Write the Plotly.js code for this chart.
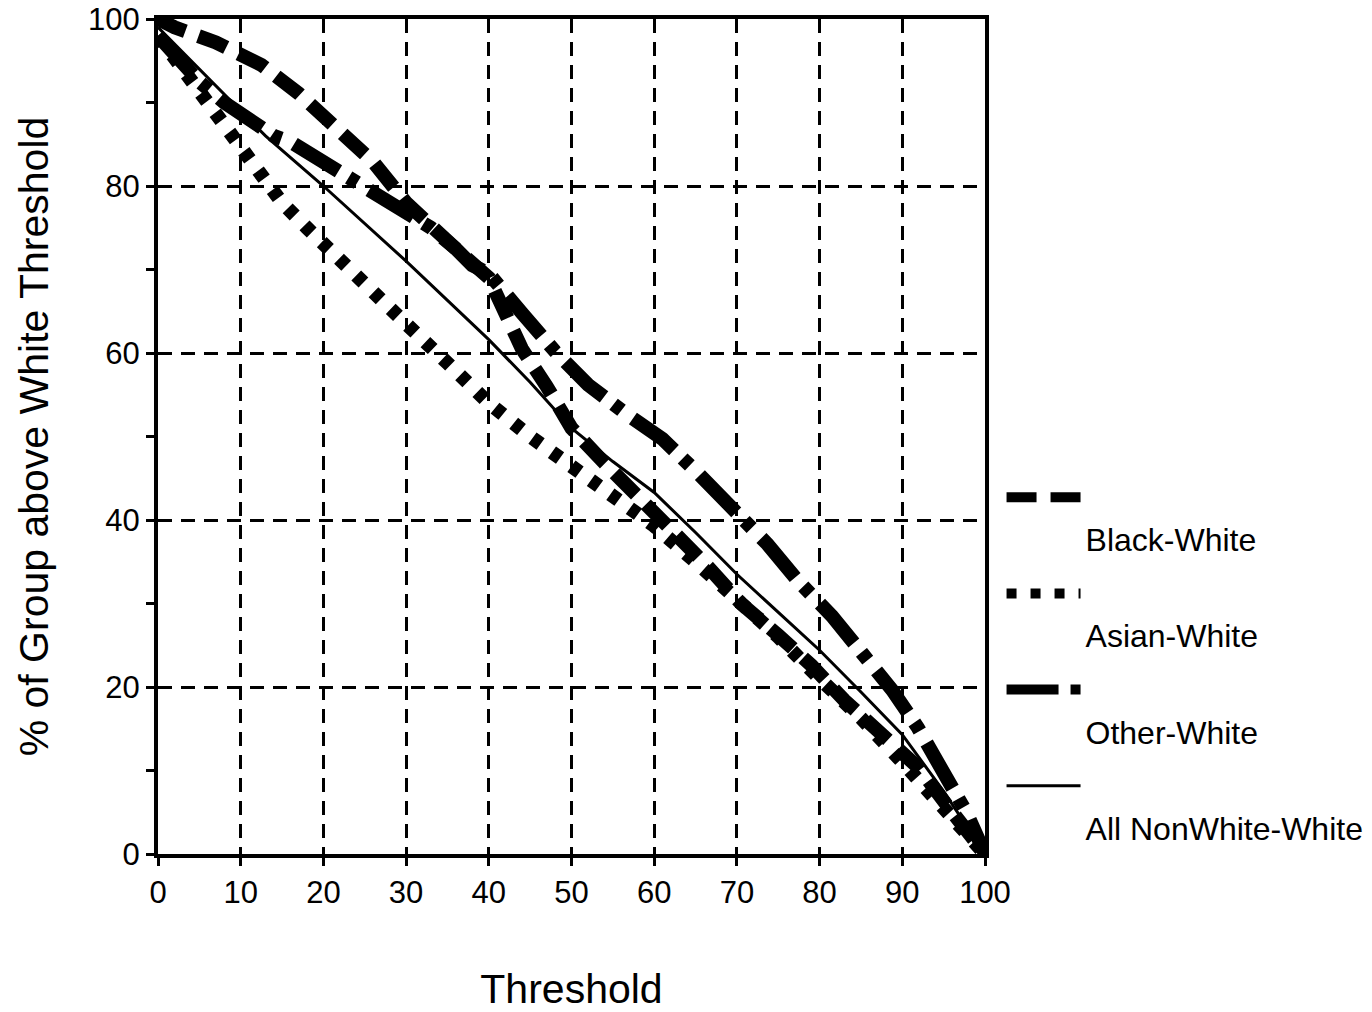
<!DOCTYPE html>
<html>
<head>
<meta charset="utf-8">
<script src="https://cdn.plot.ly/plotly-3.0.1.min.js"></script>
<style>
  html, body { margin: 0; padding: 0; background: #ffffff; }
  #chart { width: 1372px; height: 1012px; }
</style>
</head>
<body>
<div id="chart"></div>
<script>
// ---- Data ----
const seriesNames = ["Black-White", "Asian-White", "Other-White", "All NonWhite-White"];

const blackX = [0, 2, 7, 12.5, 17, 21.5, 26, 30, 33, 36, 40, 41.5, 44, 47, 50, 54, 58, 62.5, 66.5, 70.5, 75, 79, 83, 87.5, 92, 95.5, 100];
const blackY = [100, 99, 97.2, 94.5, 91.1, 87.1, 82.9, 78, 75, 72.5, 69, 66, 60.5, 56, 51, 46.8, 42.6, 38.4, 34.4, 30, 26.2, 22.6, 18.4, 14.5, 10.3, 5.7, 0];

const asianX = [0, 3, 6, 8, 10, 12, 15, 18, 20, 25, 30, 35, 40, 45, 50, 55, 60, 65, 70, 75, 80, 85, 90, 95, 100];
const asianY = [98, 94, 90, 87, 84, 81.5, 78, 75, 73, 68, 63.5, 58.8, 54, 50, 46.3, 42.8, 39.3, 35, 30.6, 26, 21, 16.3, 11, 5.5, 0];

const otherX = [0, 5, 8, 11, 14, 16, 21, 26, 30, 33, 36, 38, 40, 42, 44, 48, 52, 56.5, 61, 65.4, 69.5, 73.7, 77.3, 81.5, 85.1, 88.8, 91.9, 94.8, 97.8, 100];
const otherY = [98, 92.5, 90, 87.9, 86, 85.3, 82.4, 79.2, 77, 75, 72.5, 70.5, 69.5, 67, 64.8, 60.2, 56.2, 52.8, 49.7, 45.5, 41.4, 37.1, 32.8, 28.5, 24.1, 19.6, 15.1, 10, 4.9, 0];

const allX = [0, 13, 20, 30, 40, 45, 50, 55, 60, 65, 70, 75, 80, 85, 90, 95, 100];
const allY = [99, 86, 80, 71, 61.6, 56.5, 51, 47, 43.3, 38.5, 33.5, 29, 24.4, 19.4, 14.3, 7.5, 0];

const xTicks = [0, 10, 20, 30, 40, 50, 60, 70, 80, 90, 100];
const yTicks = [0, 20, 40, 60, 80, 100];

// ---- Traces ----
const FONT = "Liberation Sans, Arial, sans-serif";
const traces = [
  { x: blackX, y: blackY, name: seriesNames[0], legendgroup: "g1",
    line: { color: "#000", width: 14, dash: "30px,14px" } },
  { x: asianX, y: asianY, name: seriesNames[1], legendgroup: "g2",
    line: { color: "#000", width: 14, dash: "10px,14px" } },
  { x: otherX, y: otherY, name: seriesNames[2], legendgroup: "g3",
    line: { color: "#000", width: 14, dash: "52px,12px,10px,14px" } },
  { x: allX, y: allY, name: seriesNames[3], legendgroup: "g4",
    line: { color: "#000", width: 3 } }
].map(t => Object.assign({ type: "scatter", mode: "lines", hoverinfo: "skip" }, t,
  { name: "<br>" + t.name }));

const layout = {
  width: 1372, height: 1012,
  paper_bgcolor: "#fff", plot_bgcolor: "#fff",
  margin: { l: 158, r: 387, t: 19, b: 158, pad: 0, autoexpand: false },
  font: { family: FONT, color: "#000" },
  showlegend: true,
  legend: {
    x: 1.020, xanchor: "left", y: 0.46, yanchor: "top",
    font: { family: FONT, size: 32, color: "#000" },
    valign: "top", itemwidth: 74, tracegroupgap: 10,
    bgcolor: "rgba(0,0,0,0)", borderwidth: 0
  },
  xaxis: {
    range: [0, 100], tickvals: xTicks, ticktext: xTicks.map(String),
    showgrid: true, gridcolor: "#000", gridwidth: 3, griddash: "14px,9px",
    showline: true, linecolor: "#000", linewidth: 4, mirror: true,
    ticks: "outside", ticklen: 8, tickwidth: 3, tickcolor: "#000",
    tickfont: { family: FONT, size: 31, color: "#000" },
    zeroline: false, automargin: false,
    title: { text: "Threshold", font: { family: FONT, size: 41, color: "#000" }, standoff: 68 }
  },
  yaxis: {
    range: [0, 100], tickvals: yTicks, ticktext: yTicks.map(String),
    showgrid: true, gridcolor: "#000", gridwidth: 3, griddash: "14px,9px",
    showline: true, linecolor: "#000", linewidth: 4, mirror: true,
    ticks: "outside", ticklen: 8, tickwidth: 3, tickcolor: "#000",
    minor: { dtick: 10, tick0: 0, ticks: "outside", ticklen: 8, tickwidth: 3, tickcolor: "#000", showgrid: false },
    tickfont: { family: FONT, size: 31, color: "#000" },
    zeroline: false, automargin: false,
    title: { text: "% of Group above White Threshold", font: { family: FONT, size: 41, color: "#000" }, standoff: 28 }
  }
};

Plotly.newPlot("chart", traces, layout, { staticPlot: true, displayModeBar: false });
</script>
</body>
</html>
